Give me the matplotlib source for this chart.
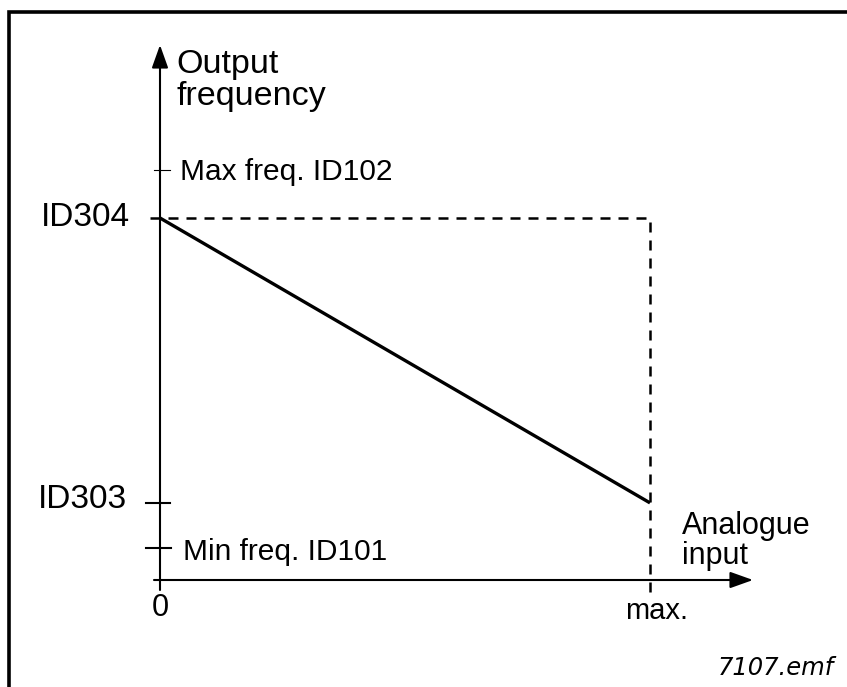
import matplotlib
matplotlib.use("Agg")
import matplotlib.pyplot as plt
from matplotlib.patches import Rectangle

# ---- data (relative units: analogue input 0..max, frequency relative to ID304) ----
x_input = [0.0, 1.0]                 # analogue input: 0 .. max
y_output = [1.0, 0.213]              # output frequency: ID304 at 0, ID303 at max
y_tick_values = [1.133, 1.0, 0.213, 0.088]
y_tick_labels = ["Max freq. ID102", "ID304", "ID303", "Min freq. ID101"]
x_tick_values = [0.0, 1.0]
x_tick_labels = ["0", "max."]

W, H = 847, 687
X0, Y0 = 160, 580          # pixel position of origin
XS, YS = 490.0, 362.0      # pixels per data unit

fig = plt.figure(figsize=(W / 100, H / 100), dpi=100)
ax = fig.add_axes([0, 0, 1, 1])
ax.set_xlim(-X0 / XS, (W - X0) / XS)
ax.set_ylim(-(H - Y0) / YS, Y0 / YS)
ax.axis("off")

def dx(p):
    return p / XS

def dy(p):
    return p / YS

def P(xp, yp):
    # pixel (from top-left) -> data
    return (xp - X0) / XS, (Y0 - yp) / YS

FONT = "Liberation Sans"

# frame
fig.patches.append(Rectangle((8.5 / W, -0.2), 1.2, 1.2 - 12 / H,
                             transform=fig.transFigure, fill=False,
                             lw=2.6, edgecolor="black", clip_on=False))

# axes with arrows
arrow_style = "-|>,head_length=0.7,head_width=0.25"
ax.annotate("", xy=P(160, 45), xytext=P(160, 590),
            arrowprops=dict(arrowstyle=arrow_style, mutation_scale=20, lw=1.5,
                            color="black", shrinkA=0, shrinkB=0))
ax.annotate("", xy=P(753, 580), xytext=P(154, 580),
            arrowprops=dict(arrowstyle=arrow_style, mutation_scale=20, lw=1.5,
                            color="black", shrinkA=0, shrinkB=0))

# y ticks
ax.plot([-dx(6), dx(10)], [y_tick_values[0]] * 2, color="black", lw=0.8)
ax.plot([-dx(14), dx(10)], [y_tick_values[2]] * 2, color="black", lw=1.5)
ax.plot([-dx(14), dx(11)], [y_tick_values[3]] * 2, color="black", lw=1.5)

# dashed guide lines
ax.plot([-dx(10), x_input[1], x_input[1]], [y_output[0], y_output[0], -dy(15)],
        color="black", lw=1.8, dashes=[4, 3.2], solid_joinstyle="miter",
        dash_joinstyle="miter")

# main characteristic
ax.plot(x_input, y_output, color="black", lw=2.4, solid_capstyle="butt")

# labels
def txt(xp, yp, s, size, ha="left", **kw):
    ax.text(*P(xp, yp), s, fontsize=size, ha=ha, va="baseline",
            family=kw.pop("family", FONT), color="black", **kw)

txt(176, 73, "Output", 24.5)
txt(176, 105, "frequency", 24.5)
txt(180, 180, y_tick_labels[0], 21.5)
txt(130, 226, y_tick_labels[1], 24, ha="right")
txt(127, 508, y_tick_labels[2], 24, ha="right")
txt(183, 560, y_tick_labels[3], 21.5)
txt(X0 + x_tick_values[0] * XS, 616, x_tick_labels[0], 22, ha="center")
txt(X0 + x_tick_values[1] * XS + 7, 619, x_tick_labels[1], 21, ha="center")
txt(682, 534, "Analogue", 22)
txt(682, 564, "input", 22)
txt(718, 675, "7107.emf", 17.5, family="DejaVu Sans", style="italic")

fig.savefig("out.png", dpi=100)
